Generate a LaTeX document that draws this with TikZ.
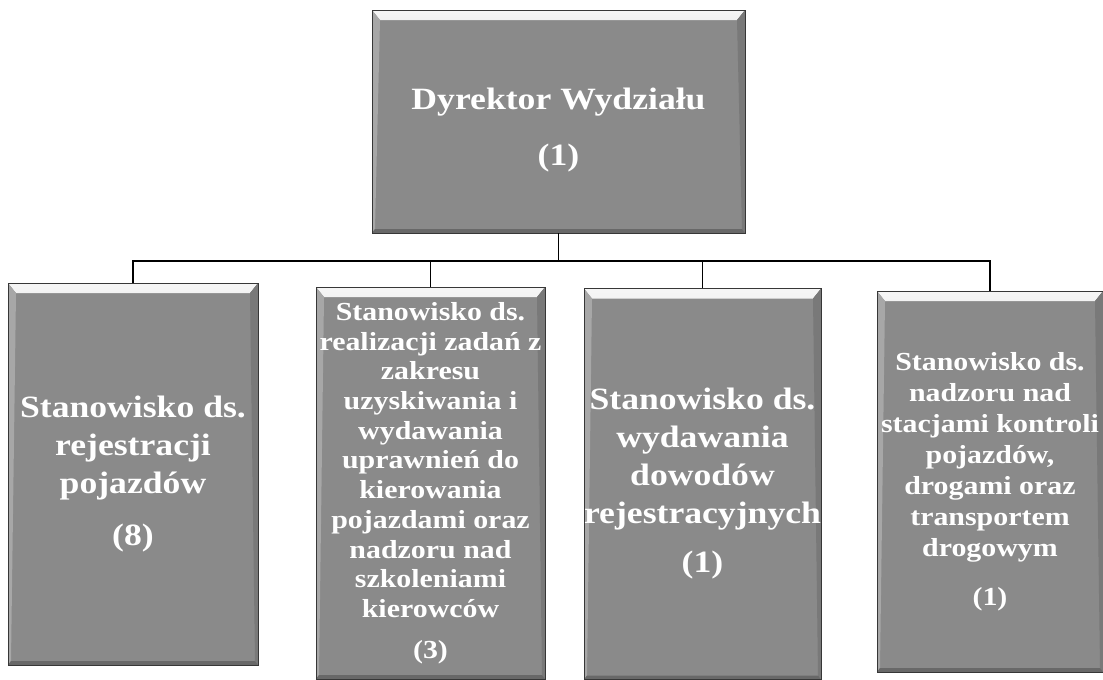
\documentclass[tikz,border=0pt]{standalone}
\usepackage{fontspec}
\setmainfont[FakeStretch=1.15]{Liberation Serif}
\definecolor{boxgray}{RGB}{138,138,138}
\definecolor{edgegray}{RGB}{55,55,55}
\tikzset{
  orgbox/.style={rectangle, draw=edgegray, line width=0.9pt, fill=boxgray,
    text=white, align=center, inner sep=0pt,
    path picture={
      \fill[top color=white!92!boxgray, bottom color=boxgray]
        (path picture bounding box.north west) --
        (path picture bounding box.north east) --
        ([xshift=-8pt,yshift=-10pt]path picture bounding box.north east) --
        ([xshift=8pt,yshift=-10pt]path picture bounding box.north west) -- cycle;
      \fill[white!25!boxgray]
        (path picture bounding box.north west) --
        ([xshift=8pt,yshift=-10pt]path picture bounding box.north west) --
        ([xshift=3pt,yshift=4pt]path picture bounding box.south west) --
        (path picture bounding box.south west) -- cycle;
      \fill[black!12!boxgray]
        (path picture bounding box.north east) --
        ([xshift=-8pt,yshift=-10pt]path picture bounding box.north east) --
        ([xshift=-3pt,yshift=4pt]path picture bounding box.south east) --
        (path picture bounding box.south east) -- cycle;
      \fill[black!25!boxgray]
        (path picture bounding box.south west) --
        ([xshift=3pt,yshift=4pt]path picture bounding box.south west) --
        ([xshift=-3pt,yshift=4pt]path picture bounding box.south east) --
        (path picture bounding box.south east) -- cycle;
    }},
  bigtext/.style={font=\fontsize{31}{38}\selectfont\bfseries},
  smalltext/.style={font=\fontsize{26}{31}\selectfont\bfseries},
  tighttext/.style={font=\fontsize{26}{29.7}\selectfont\bfseries},
  link/.style={draw=black, line width=1.4pt}
}
\begin{document}
\begin{tikzpicture}[x=1pt,y=-1pt]
\useasboundingbox (0,0) rectangle (1103,680);

\node[orgbox, bigtext, minimum width=373pt, minimum height=223pt] (top) at (558.5,121.5)
  {\raisebox{-15pt}[0pt][0pt]{\begin{tabular}{@{}c@{}}Dyrektor Wydziału\\[18pt](1)\end{tabular}}};

\node[orgbox, bigtext, minimum width=250pt, minimum height=382pt] (b1) at (133,474)
  {Stanowisko ds.\\rejestracji\\pojazdów\\[14pt](8)};

\node[orgbox, tighttext, minimum width=229pt, minimum height=392pt] (b2) at (430.5,483)
  {Stanowisko ds.\\realizacji zadań z\\zakresu\\uzyskiwania i\\wydawania\\uprawnień do\\kierowania\\pojazdami oraz\\nadzoru nad\\szkoleniami\\kierowców\\[11pt](3)};

\node[orgbox, bigtext, minimum width=237pt, minimum height=391pt] (b3) at (702.5,484)
  {Stanowisko ds.\\wydawania\\dowodów\\rejestracyjnych\\[11pt](1)};

\node[orgbox, smalltext, minimum width=226pt, minimum height=381pt] (b4) at (990,481.5)
  {Stanowisko ds.\\nadzoru nad\\stacjami kontroli\\pojazdów,\\drogami oraz\\transportem\\drogowym\\[18pt](1)};

\coordinate (bus) at (558.5,261);
\draw[link] (top.south) -- (bus);
\draw[link] (bus) -| (b1.north);
\draw[link] (bus) -| (b2.north);
\draw[link] (bus) -| (b3.north);
\draw[link] (bus) -| (b4.north);
\end{tikzpicture}
\end{document}
